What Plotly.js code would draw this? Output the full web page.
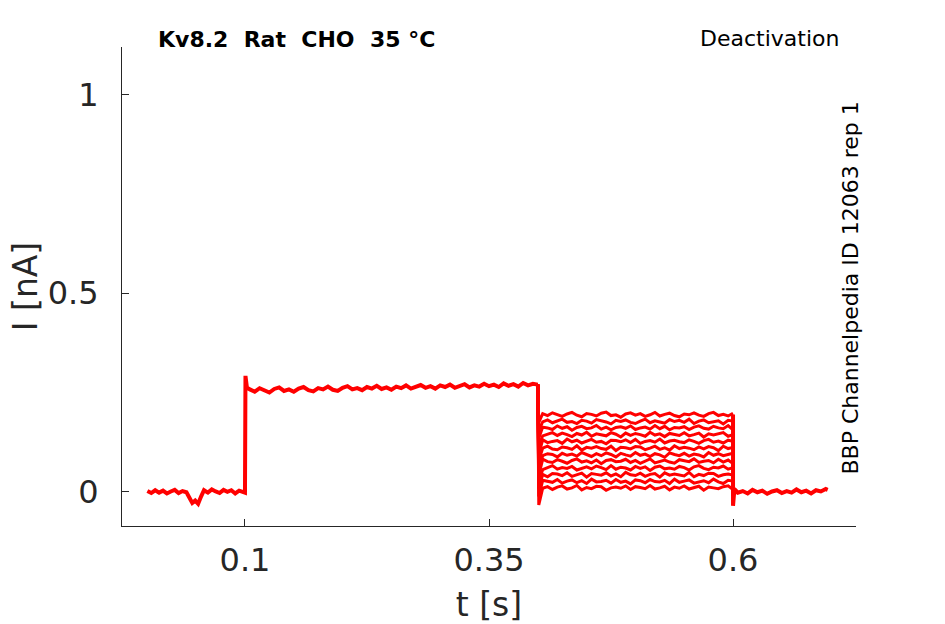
<!DOCTYPE html>
<html>
<head>
<meta charset="utf-8">
<script src="https://cdn.plot.ly/plotly-3.0.1.min.js"></script>
<style>html,body{margin:0;padding:0;background:#fff;}#chart{width:945px;height:624px;}</style>
</head>
<body>
<div id="chart"></div>
<script>
// ---- data ----
var tickVals = [0.1, 0.35, 0.6];
var tickText = ['0.1', '0.35', '0.6'];
var yTickVals = [0, 0.5, 1];
var yTickText = ['0', '0.5', '1'];

// holding segment before the step
var tPre = [0.000,0.004,0.008,0.012,0.016,0.020,0.024,0.028,0.032,0.036,0.040,0.043,0.046,0.049,0.052,0.055,0.058,0.062,0.066,0.070,0.074,0.078,0.082,0.086,0.090,0.094,0.098,0.100];
var iPre = [0.002,-0.003,0.004,-0.002,0.003,-0.004,0.001,0.005,-0.003,0.002,-0.001,-0.015,-0.028,-0.022,-0.030,-0.012,0.004,-0.002,0.006,0.001,-0.003,0.005,0.000,0.004,-0.004,0.003,0.001,-0.002];

// activating step (shared by all sweeps)
var tAct = [0.1005,0.102,0.105,0.110,0.115,0.120,0.125,0.130,0.135,0.140,0.145,0.150,0.155,0.160,0.165,0.170,0.175,0.180,0.185,0.190,0.195,0.200,0.205,0.210,0.215,0.220,0.225,0.230,0.235,0.240,0.245,0.250,0.255,0.260,0.265,0.270,0.275,0.280,0.285,0.290,0.295,0.300,0.305,0.310,0.315,0.320,0.325,0.330,0.335,0.340,0.345,0.350,0.355,0.360,0.365,0.370,0.375,0.380,0.385,0.390,0.395,0.400];
var iAct = [0.292,0.262,0.258,0.252,0.261,0.255,0.250,0.259,0.263,0.254,0.258,0.252,0.260,0.264,0.256,0.253,0.261,0.258,0.265,0.257,0.254,0.262,0.266,0.258,0.261,0.256,0.264,0.260,0.267,0.259,0.263,0.257,0.265,0.261,0.268,0.260,0.264,0.269,0.262,0.266,0.260,0.268,0.264,0.270,0.262,0.267,0.271,0.263,0.268,0.265,0.272,0.266,0.270,0.264,0.273,0.267,0.271,0.265,0.274,0.268,0.272,0.270];

// deactivation step: one trace per sweep
var tDeact = [0.400,0.401,0.405,0.410,0.415,0.420,0.425,0.430,0.435,0.440,0.445,0.450,0.455,0.460,0.465,0.470,0.475,0.480,0.485,0.490,0.495,0.500,0.505,0.510,0.515,0.520,0.525,0.530,0.535,0.540,0.545,0.550,0.555,0.560,0.565,0.570,0.575,0.580,0.585,0.590,0.595,0.600];
var sweep1 = [0.270,0.175,0.197,0.192,0.199,0.194,0.190,0.196,0.200,0.193,0.189,0.197,0.195,0.191,0.198,0.201,0.192,0.194,0.188,0.196,0.199,0.193,0.197,0.190,0.194,0.200,0.191,0.195,0.198,0.192,0.189,0.196,0.194,0.199,0.193,0.190,0.197,0.200,0.192,0.195,0.191,0.198];
var sweep2 = [0.270,0.155,0.176,0.181,0.174,0.179,0.183,0.175,0.177,0.172,0.180,0.178,0.173,0.182,0.179,0.176,0.171,0.180,0.177,0.181,0.175,0.172,0.178,0.183,0.174,0.179,0.176,0.173,0.182,0.177,0.180,0.175,0.183,0.172,0.178,0.181,0.174,0.177,0.179,0.171,0.180,0.178];
var sweep3 = [0.270,0.135,0.163,0.161,0.157,0.166,0.160,0.164,0.155,0.162,0.165,0.159,0.161,0.167,0.158,0.163,0.156,0.162,0.164,0.160,0.166,0.157,0.161,0.163,0.158,0.167,0.159,0.165,0.156,0.162,0.161,0.164,0.157,0.163,0.166,0.160,0.158,0.165,0.161,0.159,0.167,0.156];
var sweep4 = [0.270,0.115,0.141,0.145,0.149,0.142,0.148,0.144,0.139,0.147,0.143,0.150,0.140,0.146,0.144,0.141,0.149,0.145,0.138,0.148,0.142,0.147,0.144,0.140,0.150,0.143,0.146,0.139,0.147,0.145,0.142,0.149,0.141,0.144,0.148,0.138,0.146,0.143,0.147,0.149,0.140,0.144];
var sweep5 = [0.270,0.095,0.131,0.124,0.127,0.129,0.122,0.133,0.126,0.130,0.123,0.128,0.132,0.125,0.127,0.121,0.130,0.129,0.126,0.131,0.124,0.132,0.122,0.127,0.129,0.125,0.133,0.123,0.128,0.130,0.126,0.124,0.131,0.127,0.122,0.129,0.132,0.125,0.128,0.123,0.130,0.127];
var sweep6 = [0.270,0.078,0.110,0.115,0.108,0.106,0.113,0.111,0.107,0.116,0.105,0.112,0.110,0.114,0.109,0.107,0.115,0.104,0.112,0.111,0.108,0.114,0.113,0.106,0.110,0.115,0.107,0.111,0.105,0.116,0.109,0.112,0.110,0.106,0.113,0.108,0.114,0.111,0.104,0.115,0.109,0.112];
var sweep7 = [0.270,0.060,0.091,0.096,0.094,0.088,0.097,0.092,0.095,0.090,0.099,0.093,0.089,0.096,0.091,0.098,0.094,0.088,0.097,0.093,0.090,0.099,0.092,0.095,0.089,0.096,0.093,0.087,0.098,0.094,0.091,0.097,0.090,0.095,0.093,0.088,0.099,0.092,0.096,0.091,0.094,0.097];
var sweep8 = [0.270,0.042,0.082,0.076,0.074,0.081,0.077,0.072,0.079,0.083,0.075,0.078,0.073,0.080,0.071,0.079,0.081,0.076,0.077,0.082,0.074,0.079,0.072,0.078,0.083,0.073,0.077,0.080,0.075,0.072,0.081,0.078,0.076,0.083,0.074,0.077,0.079,0.073,0.082,0.075,0.080,0.071];
var sweep9 = [0.270,0.025,0.056,0.062,0.066,0.057,0.061,0.059,0.064,0.055,0.060,0.063,0.058,0.065,0.061,0.056,0.066,0.057,0.062,0.060,0.055,0.064,0.059,0.063,0.054,0.062,0.065,0.058,0.060,0.057,0.064,0.061,0.055,0.063,0.066,0.059,0.056,0.062,0.060,0.065,0.057,0.061];
var sweep10 = [0.270,0.008,0.044,0.038,0.046,0.045,0.041,0.048,0.039,0.043,0.047,0.037,0.046,0.044,0.042,0.048,0.040,0.045,0.038,0.049,0.043,0.041,0.047,0.039,0.044,0.046,0.037,0.048,0.042,0.045,0.043,0.040,0.049,0.038,0.044,0.041,0.047,0.046,0.039,0.043,0.045,0.042];
var sweep11 = [0.270,-0.012,0.029,0.026,0.024,0.031,0.022,0.027,0.030,0.023,0.028,0.021,0.032,0.025,0.026,0.029,0.022,0.031,0.024,0.027,0.020,0.030,0.028,0.023,0.031,0.026,0.025,0.029,0.021,0.032,0.024,0.027,0.030,0.022,0.026,0.028,0.023,0.032,0.025,0.021,0.029,0.027];
var sweep12 = [0.270,-0.033,0.009,0.013,0.006,0.012,0.015,0.007,0.010,0.016,0.005,0.011,0.008,0.014,0.013,0.004,0.010,0.012,0.009,0.015,0.006,0.013,0.011,0.008,0.016,0.007,0.010,0.014,0.005,0.012,0.009,0.015,0.007,0.011,0.014,0.004,0.012,0.010,0.008,0.013,0.015,0.006];
var sweeps = [sweep1, sweep2, sweep3, sweep4, sweep5, sweep6, sweep7, sweep8, sweep9, sweep10, sweep11, sweep12];

// return to holding after the deactivation step (shared)
var tPost = [0.600,0.600,0.601,0.603,0.605,0.610,0.615,0.620,0.625,0.630,0.635,0.640,0.645,0.650,0.655,0.660,0.665,0.670,0.675,0.680,0.685,0.690,0.695,0.697];
var iPost = [0.195,-0.035,-0.006,0.003,-0.002,0.002,-0.004,0.005,-0.001,0.003,-0.005,0.001,0.004,-0.003,0.002,-0.002,0.006,-0.001,0.003,-0.004,0.004,0.001,0.007,0.005];

var titleText = 'Kv8.2\u00a0\u00a0Rat\u00a0\u00a0CHO\u00a0\u00a035 \u00b0C';
var protocolText = 'Deactivation';
var sourceText = 'BBP Channelpedia ID 12063 rep 1';

// ---- traces ----
var red = '#ff0000';
var traces = [];
traces.push({x: tPre.concat(tAct), y: iPre.concat(iAct), mode: 'lines', line: {color: red, width: 4}, hoverinfo: 'skip'});
sweeps.forEach(function (s) {
  traces.push({x: tDeact, y: s, mode: 'lines', line: {color: red, width: 3}, hoverinfo: 'skip'});
});
traces.push({x: tPost, y: iPost, mode: 'lines', line: {color: red, width: 4}, hoverinfo: 'skip'});

var font = 'DejaVu Sans, Liberation Sans, sans-serif';
var axisColor = '#262626';
var layout = {
  width: 945, height: 624,
  margin: {l: 122, r: 89, t: 47, b: 98, pad: 0},
  paper_bgcolor: '#ffffff', plot_bgcolor: '#ffffff',
  showlegend: false,
  font: {family: font, color: axisColor},
  xaxis: {
    range: [-0.026, 0.726],
    tickvals: tickVals, ticktext: tickText,
    ticks: 'inside', ticklen: 7, tickwidth: 1, tickcolor: axisColor,
    showline: true, linecolor: axisColor, linewidth: 1,
    showgrid: false, zeroline: false,
    tickfont: {family: font, size: 32, color: axisColor},
    ticklabelstandoff: 6,
    title: {text: 't [s]', font: {family: font, size: 33, color: axisColor}, standoff: 15}
  },
  yaxis: {
    range: [-0.086, 1.12],
    tickvals: yTickVals, ticktext: yTickText,
    ticks: 'inside', ticklen: 7, tickwidth: 1, tickcolor: axisColor,
    showline: true, linecolor: axisColor, linewidth: 1,
    showgrid: false, zeroline: false,
    tickfont: {family: font, size: 32, color: axisColor},
    ticklabelstandoff: 16,
    title: {text: 'I [nA]', font: {family: font, size: 33, color: axisColor}, standoff: 0}
  },
  annotations: [
    {text: '<b>' + titleText + '</b>', xref: 'paper', yref: 'paper', x: 0.047, y: 1.015,
     xanchor: 'left', yanchor: 'middle', showarrow: false, font: {family: font, size: 22, color: '#000'}},
    {text: protocolText, xref: 'paper', yref: 'paper', x: 0.882, y: 1.017,
     xanchor: 'center', yanchor: 'middle', showarrow: false, font: {family: font, size: 22, color: '#000'}},
    {text: sourceText, xref: 'paper', yref: 'paper', x: 0.992, y: 0.496, textangle: -90,
     xanchor: 'center', yanchor: 'middle', showarrow: false, font: {family: font, size: 22, color: '#000'}}
  ]
};

Plotly.newPlot('chart', traces, layout, {displayModeBar: false, staticPlot: true});
</script>
</body>
</html>
